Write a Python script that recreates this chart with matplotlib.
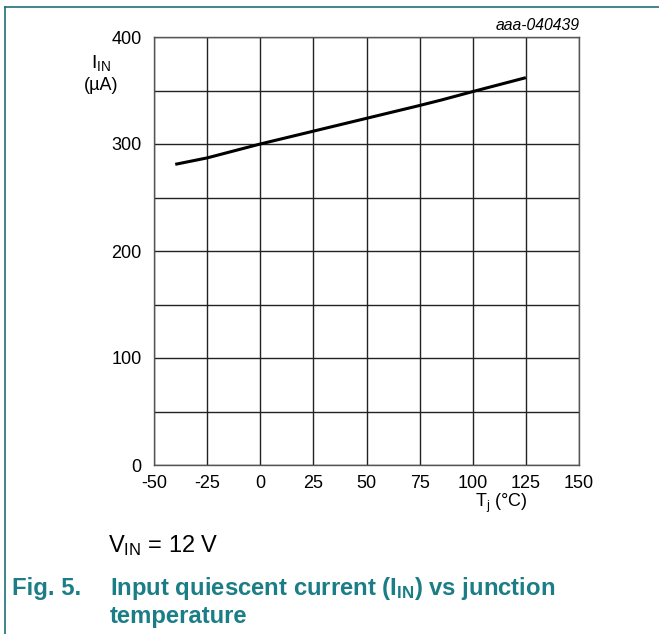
import numpy as np
import matplotlib.pyplot as plt
from matplotlib.lines import Line2D

plt.rcParams['font.family'] = ['Liberation Sans', 'DejaVu Sans']
plt.rcParams['mathtext.fontset'] = 'custom'
plt.rcParams['mathtext.rm'] = 'Liberation Sans'
plt.rcParams['mathtext.it'] = 'Liberation Sans:italic'
plt.rcParams['mathtext.bf'] = 'Liberation Sans:bold'
plt.rcParams['axes.unicode_minus'] = False

# Tj (degC) vs Iin (uA)
temp = [-40, -25, 0, 25, 50, 75, 85, 100, 125]
i_in = [281, 287, 300, 312, 324, 336, 341, 349, 362]
xticks = [-50, -25, 0, 25, 50, 75, 100, 125, 150]
yticks = [0, 100, 200, 300, 400]

teal = '#1b7d85'

fig = plt.figure(figsize=(6.59, 6.34), dpi=100)
ax = fig.add_axes([154/659, 1-465/634, 425/659, 428/634])

ax.plot(temp, i_in, color='black', lw=2.2, solid_capstyle='butt')
ax.set_xlim(-50, 150)
ax.set_ylim(0, 400)
ax.set_xticks(xticks)
ax.set_yticks(yticks)
ax.set_yticks([50, 150, 250, 350], minor=True)
ax.tick_params(length=0, labelsize=13)
ax.tick_params(axis='x', pad=7)
ax.tick_params(axis='y', pad=9)
ax.tick_params(which='minor', length=0)
ax.grid(True, which='both', color='#222222', lw=1)
for s in ax.spines.values():
    s.set_color('#555555')
    s.set_linewidth(1)

fig.text(101/659, 1-63/634, r'$\mathregular{I_{IN}}$', fontsize=14, ha='center', va='center')
fig.text(101/659, 1-85/634, '(µA)', fontsize=13, ha='center', va='center')
fig.text(501/659, 1-503/634, r'$\mathregular{T_j}$ (°C)', fontsize=13, ha='center', va='center')
fig.text(580/659, 1-26/634, 'aaa-040439', fontsize=11.3, style='italic', ha='right', va='center')

fig.text(108/659, 1-546/634, r'$\mathregular{V_{IN}}$ = 12 V', fontsize=17, ha='left', va='center')
fig.text(12/659, 1-588/634, 'Fig. 5.', fontsize=17.2, weight='bold', color=teal, ha='left', va='center')
fig.text(110/659, 1-588/634, r'Input quiescent current (I$\mathbf{_{IN}}$) vs junction',
         fontsize=17.2, weight='bold', color=teal, ha='left', va='center')
fig.text(110/659, 1-616/634, 'temperature', fontsize=17.2, weight='bold', color=teal, ha='left', va='center')

# frame lines
fig.add_artist(Line2D([5/659, 1], [1-7/634, 1-7/634], color='#1f6f78', lw=1.2))
fig.add_artist(Line2D([5/659, 5/659], [0, 1-7/634], color='#1f6f78', lw=1.2))

fig.savefig('out.png', dpi=100)
